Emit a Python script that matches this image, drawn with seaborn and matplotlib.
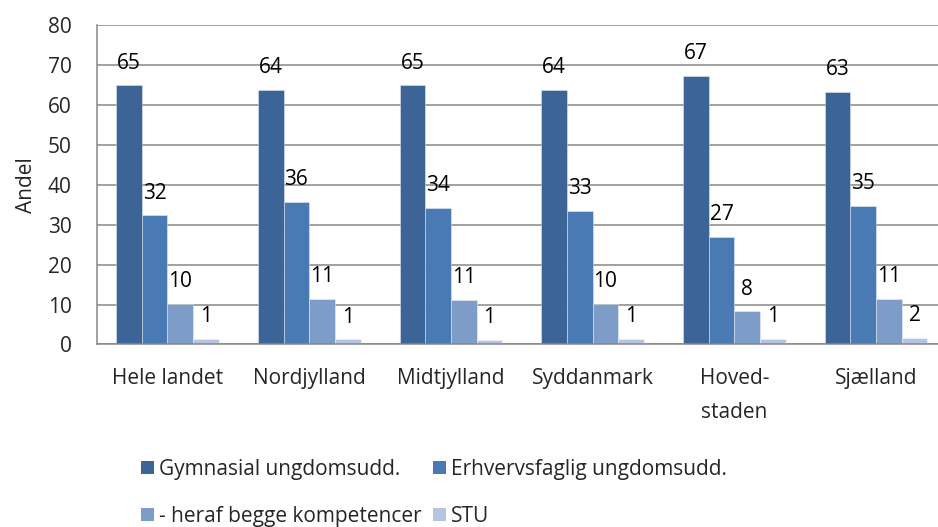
import matplotlib
matplotlib.use("Agg")
import matplotlib.pyplot as plt
import pandas as pd
import seaborn as sns
from matplotlib.patches import Patch
from matplotlib.ticker import FixedLocator

regioner = ["Hele landet", "Nordjylland", "Midtjylland", "Syddanmark", "Hoved-\nstaden", "Sjælland"]
serier = ["Gymnasial ungdomsudd.", "Erhvervsfaglig ungdomsudd.",
          "- heraf begge kompetencer", "STU"]

gymnasial = [64.9, 63.7, 64.9, 63.8, 67.2, 63.2]
erhvervsfaglig = [32.3, 35.7, 34.2, 33.4, 27.0, 34.7]
begge = [10.2, 11.4, 11.2, 10.2, 8.3, 11.4]
stu = [1.4, 1.3, 1.2, 1.4, 1.4, 1.6]

farver = ["#3C6496", "#4A7AB4", "#7E9CC8", "#B4C4E2"]

df = pd.DataFrame({
    "region": regioner * 4,
    "serie": [s for s in serier for _ in regioner],
    "andel": gymnasial + erhvervsfaglig + begge + stu,
})

sns.set_style("white")
plt.rcParams["font.family"] = ["Open Sans", "DejaVu Sans"]
fs = 15

fig = plt.figure(figsize=(9.38, 5.27), dpi=100)
ax = fig.add_axes([0.103, 0.3463, 0.9065, 0.6063])

sns.barplot(data=df, x="region", y="andel", hue="serie", hue_order=serier,
            palette=farver, saturation=1, width=0.725, errorbar=None, legend=False,
            ax=ax, edgecolor=(1, 1, 1, 0.45), linewidth=0.6, zorder=3)

# værdietiketter over søjlerne
for cont in ax.containers:
    for bar in cont:
        h = bar.get_height()
        ax.annotate(f"{h:.0f}", (bar.get_x() + bar.get_width() / 2, h),
                    xytext=(0, 16), textcoords="offset points",
                    ha="center", va="center", fontsize=fs, color="black")

grid = "#878787"
ax.set_ylim(0, 80)
ax.set_xlim(-0.5, len(regioner) - 0.5)
ax.set_yticks(range(0, 81, 10))
ax.yaxis.grid(True, color=grid, linewidth=1.1, zorder=0)
ax.set_axisbelow(True)
for side in ["top", "right"]:
    ax.spines[side].set_visible(False)
for side in ["left", "bottom"]:
    ax.spines[side].set_color(grid)
    ax.spines[side].set_linewidth(1.1)
    ax.spines[side].set_zorder(4)

ax.tick_params(axis="y", which="major", direction="out", length=6, width=1.1,
               color=grid, labelsize=fs, pad=12)
ax.tick_params(axis="x", which="major", length=0, labelsize=fs, pad=17)
ax.xaxis.set_minor_locator(FixedLocator([i - 0.5 for i in range(len(regioner) + 1)]))
ax.tick_params(axis="x", which="minor", direction="out", length=6, width=1.1, color=grid)
for lbl in ax.get_xticklabels():
    lbl.set_linespacing(1.8)

ax.set_xlabel("")
ax.set_ylabel("Andel", fontsize=fs, labelpad=8)

rækkefølge = [0, 2, 1, 3]
handles = [Patch(facecolor=farver[i], edgecolor="none") for i in rækkefølge]
labels = [serier[i] for i in rækkefølge]
fig.legend(handles, labels, ncol=2, loc="center left",
           bbox_to_anchor=(0.150, 0.065), frameon=False, fontsize=fs,
           handlelength=0.62, handleheight=0.62, handletextpad=0.25,
           columnspacing=0.55, labelspacing=1.25, borderpad=0, borderaxespad=0)

fig.savefig("out.png", dpi=100)
